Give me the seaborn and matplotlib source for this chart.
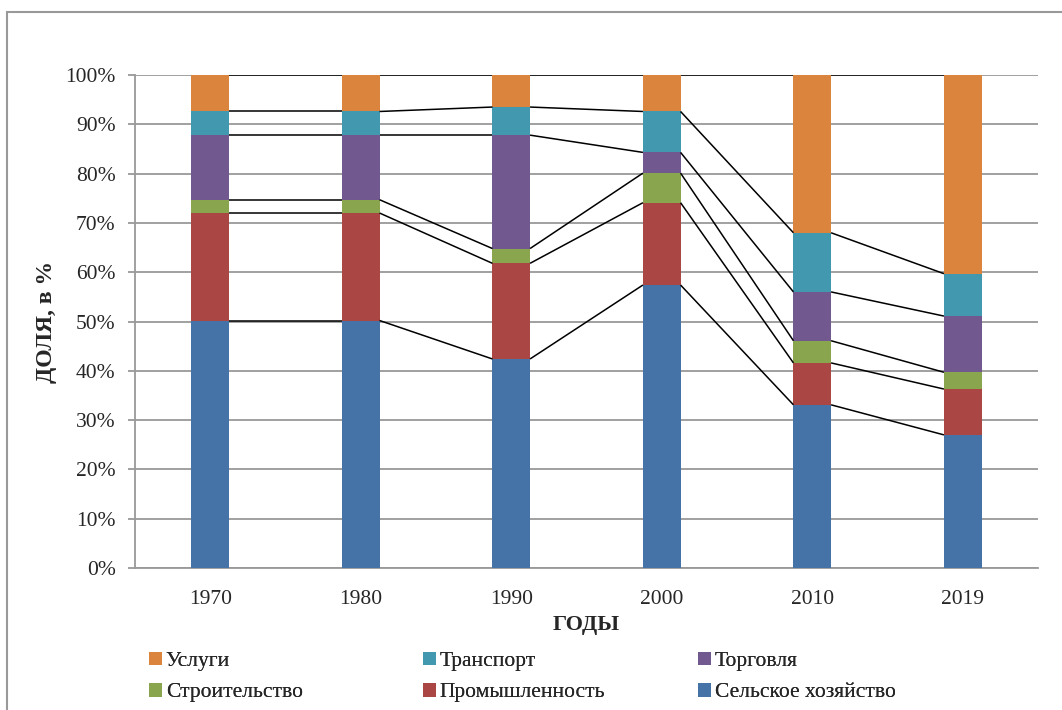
import numpy as np
import pandas as pd
import matplotlib
matplotlib.use('Agg')
import matplotlib.pyplot as plt
import seaborn as sns
from matplotlib.patches import Rectangle, Patch

# Data (shares, %)
years = ['1970', '1980', '1990', '2000', '2010', '2019']
agri = [50.2, 50.2, 42.4, 57.4, 33.1, 27.0]
industry = [21.8, 21.8, 19.4, 16.7, 8.5, 9.3]
construction = [2.7, 2.7, 3.0, 6.0, 4.5, 3.4]
trade = [13.1, 13.1, 23.0, 4.2, 9.9, 11.4]
transport = [4.8, 4.8, 5.7, 8.3, 12.0, 8.6]
services = [7.4, 7.4, 6.5, 7.4, 32.0, 40.3]

series_names = ['Сельское хозяйство', 'Промышленность', 'Строительство',
                'Торговля', 'Транспорт', 'Услуги']
series_vals = [agri, industry, construction, trade, transport, services]
colors = ['#4572A7', '#AA4643', '#89A54E', '#71588F', '#4198AF', '#DB843D']

sns.set_style('white')
plt.rcParams['font.family'] = ['Liberation Serif', 'DejaVu Serif']

df = pd.DataFrame(dict(zip(series_names, series_vals)), index=years)
df = df.div(df.sum(axis=1), axis=0) * 100
cum = df.cumsum(axis=1)

fig = plt.figure(figsize=(10.62, 7.10), dpi=100)
ax = fig.add_axes([135 / 1062, 1 - 568 / 710, (1038 - 135) / 1062, (568 - 75) / 710])

bar_w = 0.25
# draw cumulative layers from the top down so each one covers the next
for name, color in reversed(list(zip(series_names, colors))):
    layer = pd.DataFrame({'year': years, 'val': cum[name].values})
    sns.barplot(data=layer, x='year', y='val', color=color, width=bar_w,
                saturation=1, ax=ax, zorder=3, edgecolor='none')

# series lines between bars
xs = np.arange(len(years))
for name in series_names:
    vals = cum[name].values
    for i in range(len(years) - 1):
        ax.plot([xs[i] + bar_w / 2, xs[i + 1] - bar_w / 2], [vals[i], vals[i + 1]],
                color='black', lw=1.1, zorder=4, solid_capstyle='butt')

ax.set_ylim(0, 100)
ax.set_xlim(-0.5, len(years) - 0.5)
ax.set_yticks(range(0, 101, 10))
ax.set_yticklabels([f'{v}%' for v in range(0, 101, 10)], fontsize=15.5)
ax.set_xticks(xs)
ax.set_xticklabels(years, fontsize=15.5)
ax.yaxis.grid(True, color='#999999', lw=1.3, zorder=0)
ax.set_axisbelow(True)
for s in ['top', 'right']:
    ax.spines[s].set_visible(False)
for s in ['left', 'bottom']:
    ax.spines[s].set_color('#999999')
    ax.spines[s].set_linewidth(1.3)
ax.tick_params(axis='y', length=5, width=1.3, color='#999999', pad=9, left=True)
ax.tick_params(axis='x', length=0, pad=16)

ax.set_ylabel('ДОЛЯ, в %', fontsize=17, fontweight='bold', labelpad=6)
ax.set_xlabel('ГОДЫ', fontsize=16, fontweight='bold', labelpad=4)

# legend: three columns, each placed on its own
cmap = dict(zip(series_names, colors))
columns = [['Услуги', 'Строительство'],
           ['Транспорт', 'Промышленность'],
           ['Торговля', 'Сельское хозяйство']]
col_x = [140, 414, 689]
for names, x0 in zip(columns, col_x):
    handles = [Patch(facecolor=cmap[n], edgecolor='none', label=n) for n in names]
    leg = fig.legend(handles=handles, loc='upper left',
                     bbox_to_anchor=(x0 / 1062, 1 - 643 / 710),
                     frameon=False, fontsize=15.5, handlelength=0.6, handleheight=0.6,
                     handletextpad=0.2, labelspacing=0.55, borderaxespad=0)
    fig.add_artist(leg)

# outer chart frame
fig.add_artist(Rectangle((7 / 1062, -0.1), 1.1, 1 - 12 / 710 + 0.1, transform=fig.transFigure,
                         fill=False, edgecolor='#999999', lw=1.5))

fig.savefig('out.png', dpi=100)
